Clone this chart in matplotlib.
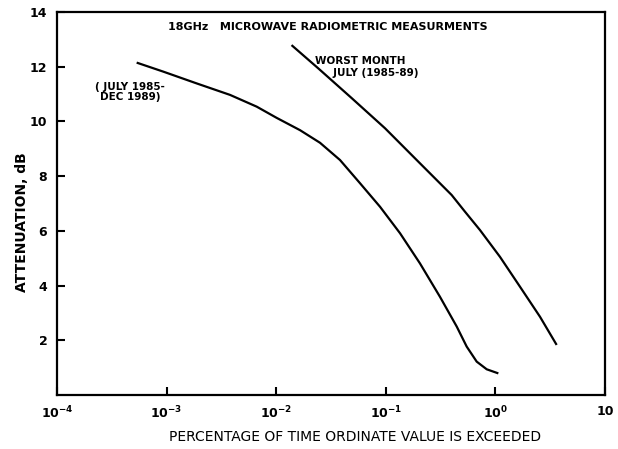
import matplotlib
matplotlib.use("Agg")
import matplotlib.pyplot as plt
from matplotlib.ticker import FixedLocator, FixedFormatter, NullLocator

plt.rcParams['font.family'] = ['DejaVu Sans']
plt.rcParams['mathtext.default'] = 'bf'

# Overall (July 1985 - Dec 1989)
total_x = [5.33e-4, 9.33e-4, 1.88e-3, 3.79e-3, 6.64e-3, 0.0101, 0.0165, 0.0251, 0.0382,
           0.0582, 0.0886, 0.135, 0.205, 0.312, 0.444, 0.547, 0.675, 0.833, 1.064]
total_y = [12.15, 11.82, 11.39, 10.97, 10.54, 10.13, 9.68, 9.22, 8.59,
           7.74, 6.88, 5.91, 4.81, 3.59, 2.50, 1.77, 1.22, 0.94, 0.79]

# Worst month July (1985-89)
worst_x = [0.0138, 0.0242, 0.0489, 0.0984, 0.198, 0.399, 0.528, 0.723, 1.101, 1.675, 2.552, 3.622]
worst_y = [12.79, 11.94, 10.85, 9.75, 8.53, 7.31, 6.70, 6.03, 5.05, 3.96, 2.86, 1.83]

xticks = [1e-4, 1e-3, 1e-2, 1e-1, 1e0, 10]
xticklabels = [r"10$^{-4}$", r"10$^{-3}$", r"10$^{-2}$", r"10$^{-1}$", r"10$^{0}$", "10"]
yticks = [2, 4, 6, 8, 10, 12, 14]

fig = plt.figure(figsize=(6.18, 4.49), dpi=100)
ax = fig.add_axes([57/618, 1-395/449, 548/618, 383/449])

ax.plot(total_x, total_y, color='black', lw=1.6, solid_capstyle='butt')
ax.plot(worst_x, worst_y, color='black', lw=1.6, solid_capstyle='butt')

ax.set_xscale('log')
ax.set_xlim(1e-4, 10)
ax.set_ylim(0, 14)
ax.xaxis.set_major_locator(FixedLocator(xticks))
ax.xaxis.set_major_formatter(FixedFormatter(xticklabels))
ax.xaxis.set_minor_locator(NullLocator())
ax.set_yticks(yticks)
ax.set_yticklabels([str(v) for v in yticks])

for s in ax.spines.values():
    s.set_linewidth(1.6)
ax.tick_params(axis='both', direction='in', length=6, width=1.5, labelsize=9)
ax.tick_params(axis='x', pad=7)
ax.tick_params(axis='y', pad=7)
for lab in ax.get_xticklabels() + ax.get_yticklabels():
    lab.set_fontweight('bold')

ax.text(0.494, 0.961, "18GHz   MICROWAVE RADIOMETRIC MEASURMENTS", transform=ax.transAxes,
        ha='center', va='center', fontsize=8, fontweight='bold')
ax.text((130-57)/548, (395-92)/383, "( JULY 1985-\nDEC 1989)", transform=ax.transAxes,
        ha='center', va='center', fontsize=7.5, fontweight='bold', linespacing=1.1)
ax.text((315-57)/548, (395-67)/383, "WORST MONTH\n     JULY (1985-89)", transform=ax.transAxes,
        ha='left', va='center', fontsize=7.5, fontweight='bold', linespacing=1.2)

fig.text(355/618, 1-437/449, "PERCENTAGE OF TIME ORDINATE VALUE IS EXCEEDED",
         ha='center', va='center', fontsize=10)
fig.text(22/618, 1-222/449, "ATTENUATION, dB", rotation=90,
         ha='center', va='center', fontsize=10, fontweight='bold')

fig.savefig("out.png", dpi=100)
